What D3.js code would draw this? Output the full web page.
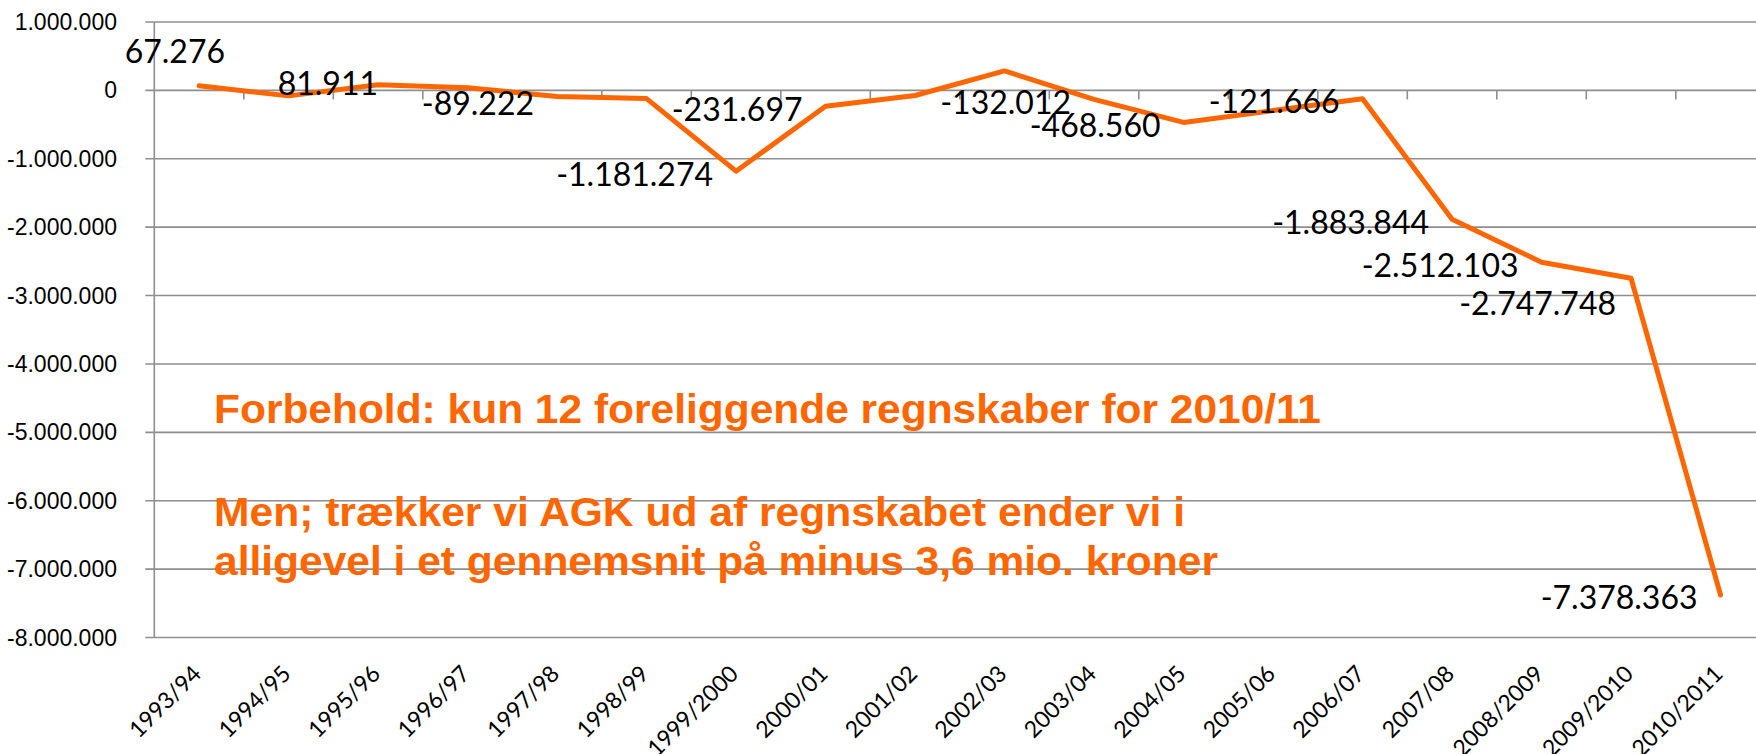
<html>
<head>
<script src="https://d3js.org/d3.v7.min.js"></script>
<style>
  body { margin: 0; background: #fff; }
  svg { display: block; }
  .grid line { stroke: #8e8e8e; stroke-width: 1.6; }
  .ytick { font-family: "Liberation Sans", Arial, sans-serif; font-size: 23px; fill: #000; }
  .xtick { font-family: Lato, sans-serif; font-size: 23px; fill: #000; }
  .dlabel { font-family: Lato, sans-serif; font-size: 32px; fill: #000; }
  .note { font-family: "Liberation Sans", Arial, sans-serif; font-weight: bold; font-size: 41px; fill: #ff6600; }
</style>
</head>
<body>
<div id="chart"></div>
<script>
// seasons on the x axis
var categories = ["1993/94", "1994/95", "1995/96", "1996/97", "1997/98", "1998/99",
  "1999/2000", "2000/01", "2001/02", "2002/03", "2003/04", "2004/05", "2005/06",
  "2006/07", "2007/08", "2008/2009", "2009/2010", "2010/2011"];

// result per season (kr), unlabelled points
var values = [67276, -80000, 81911, 40000, -89222, -120000, -1181274, -231697,
  -75000, 285000, -132012, -468560, -295000, -121666, -1883844, -2512103,
  -2747748, -7378363];

// which points carry a data label
var labelled = [0, 2, 4, 6, 7, 10, 11, 13, 14, 15, 16, 17];

var yTicks = [1000000, 0, -1000000, -2000000, -3000000, -4000000,
  -5000000, -6000000, -7000000, -8000000];

var notes = ["Forbehold: kun 12 foreliggende regnskaber for 2010/11",
  "Men; trækker vi AGK ud af regnskabet ender vi i",
  "alligevel i et gennemsnit på minus 3,6 mio. kroner"];

var width = 1756, height = 754;
var plotLeft = 154.3, band = 89.5;
var plotTop = 22, plotBottom = 637.5;

var dk = d3.formatLocale({decimal: ",", thousands: ".", grouping: [3], currency: ["", " kr"], minus: "-"});
var fmt = dk.format(",d");

/* Scales */
var x = d3.scaleBand()
  .domain(categories)
  .range([plotLeft, plotLeft + band * categories.length])
  .padding(0);

var y = d3.scaleLinear()
  .domain([-8000000, 1000000])
  .range([plotBottom, plotTop]);

var cx = d => x(d) + x.bandwidth() / 2;

var svg = d3.select("#chart").append("svg")
  .attr("width", width)
  .attr("height", height);

svg.append("rect").attr("width", width).attr("height", height).attr("fill", "#fff");

/* Gridlines */
svg.append("g").attr("class", "grid")
  .selectAll("line")
  .data(yTicks).enter()
  .append("line")
  .attr("x1", plotLeft - 9)
  .attr("x2", width)
  .attr("y1", d => y(d))
  .attr("y2", d => y(d));

/* Y axis */
svg.append("line")
  .attr("x1", plotLeft).attr("x2", plotLeft)
  .attr("y1", y(1000000)).attr("y2", y(-8000000))
  .attr("stroke", "#8e8e8e").attr("stroke-width", 1.6);

svg.append("g")
  .selectAll("text")
  .data(yTicks).enter()
  .append("text")
  .attr("class", "ytick")
  .attr("x", 117)
  .attr("y", d => y(d))
  .attr("dy", "0.35em")
  .attr("text-anchor", "end")
  .text(d => fmt(d));

/* X axis ticks sit on the zero line */
var bounds = categories.slice(1);
svg.append("g")
  .selectAll("line")
  .data(bounds).enter()
  .append("line")
  .attr("x1", d => x(d)).attr("x2", d => x(d))
  .attr("y1", y(0)).attr("y2", y(0) + 9)
  .attr("stroke", "#8e8e8e").attr("stroke-width", 1.6);

svg.append("g")
  .selectAll("text")
  .data(categories).enter()
  .append("text")
  .attr("class", "xtick")
  .attr("text-anchor", "end")
  .attr("transform", d => `translate(${cx(d) - 2}, ${plotBottom + 32}) rotate(-45)`)
  .attr("dy", "0.35em")
  .text(d => d);

/* Notes */
var noteLen = [1107, 971, 1004];
var noteY = [423, 526, 575];
svg.append("g")
  .selectAll("text")
  .data(notes).enter()
  .append("text")
  .attr("class", "note")
  .attr("x", 214)
  .attr("y", (d, i) => noteY[i])
  .attr("textLength", (d, i) => noteLen[i])
  .attr("lengthAdjust", "spacingAndGlyphs")
  .text(d => d);

/* Line */
var line = d3.line()
  .x((d, i) => cx(categories[i]))
  .y(d => y(d));

svg.append("path")
  .datum(values)
  .attr("d", line)
  .attr("fill", "none")
  .attr("stroke", "#ff6600")
  .attr("stroke-width", 5)
  .attr("stroke-linejoin", "round")
  .attr("stroke-linecap", "round");

/* Data labels, placed left of the point; a few were dragged by hand */
var nudge = {0: [49, -37], 2: [23, -4], 4: [0, 4], 16: [8, 22]};
svg.append("g")
  .selectAll("text")
  .data(labelled).enter()
  .append("text")
  .attr("class", "dlabel")
  .attr("text-anchor", "end")
  .attr("x", i => cx(categories[i]) - 23 + (nudge[i] ? nudge[i][0] : 0))
  .attr("y", i => y(values[i]) + (nudge[i] ? nudge[i][1] : 0))
  .attr("dy", "0.45em")
  .text(i => fmt(values[i]));
</script>
</body>
</html>
